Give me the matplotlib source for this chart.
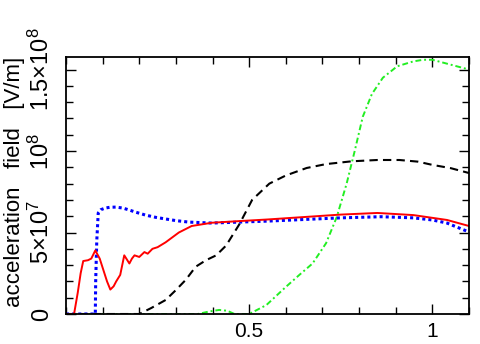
import numpy as np
import matplotlib
matplotlib.use('Agg')
import matplotlib.pyplot as plt
from matplotlib.ticker import MultipleLocator, FixedLocator, FixedFormatter

plt.rcParams['font.family'] = ['Liberation Sans', 'DejaVu Sans']
plt.rcParams['mathtext.fontset'] = 'custom'
plt.rcParams['mathtext.rm'] = 'Liberation Sans'

# field values in units of 1e7 V/m
red_x = [0, 0.022, 0.032, 0.04, 0.047, 0.06, 0.069, 0.08, 0.092, 0.102, 0.112, 0.121, 0.13,
         0.137, 0.148, 0.159, 0.166, 0.173, 0.18, 0.187, 0.2, 0.214, 0.223, 0.236, 0.25,
         0.272, 0.308, 0.343, 0.398, 0.473, 0.55, 0.65, 0.75, 0.85, 0.948, 1.04, 1.1]
red_y = [0, 0, 1.3, 2.5, 3.25, 3.3, 3.4, 3.9, 3.4, 2.7, 2.0, 1.5, 1.7,
         2.0, 2.4, 3.6, 3.35, 3.1, 3.4, 3.6, 3.5, 3.8, 3.7, 4.0, 4.1,
         4.4, 5.0, 5.4, 5.6, 5.7, 5.8, 5.95, 6.1, 6.2, 6.07, 5.77, 5.4]

blue_x = [0, 0.08, 0.081, 0.084, 0.088, 0.095, 0.107, 0.12, 0.137, 0.155, 0.17, 0.19,
          0.217, 0.245, 0.272, 0.3, 0.335, 0.398, 0.473, 0.55, 0.65, 0.75, 0.86,
          0.948, 1.0, 1.04, 1.1]
blue_y = [0, 0, 2.0, 4.5, 6.2, 6.4, 6.5, 6.55, 6.56, 6.5, 6.4, 6.25,
          6.07, 5.93, 5.83, 5.73, 5.64, 5.58, 5.64, 5.7, 5.8, 5.9, 5.97,
          5.9, 5.77, 5.58, 5.03]

black_x = [0, 0.2, 0.233, 0.272, 0.3, 0.327, 0.354, 0.382, 0.41, 0.437, 0.473, 0.508,
           0.555, 0.6, 0.657, 0.71, 0.78, 0.85, 0.91, 0.96, 1.0, 1.05, 1.1]
black_y = [0, 0, 0.37, 0.86, 1.47, 2.1, 2.9, 3.3, 3.6, 4.2, 5.5, 7.0,
           8.0, 8.5, 8.96, 9.2, 9.37, 9.45, 9.45, 9.35, 9.15, 8.95, 8.65]

green_x = [0, 0.36, 0.39, 0.418, 0.44, 0.46, 0.5, 0.547, 0.6, 0.637, 0.673, 0.71,
           0.739, 0.766, 0.788, 0.81, 0.835, 0.865, 0.904, 0.948, 0.975, 1.0, 1.05, 1.1]
green_y = [0, 0, 0.15, 0.25, 0.2, 0, 0, 0.55, 1.66, 2.4, 3.1, 4.35,
           5.95, 8.0, 10.0, 12.1, 13.5, 14.5, 15.2, 15.5, 15.6, 15.6, 15.3, 15.0]

ytick_vals = [0, 5e7, 1e8, 1.5e8]
ytick_text = ['0', r'$\mathregular{5{\times}10^{7}}$', r'$\mathregular{10^{8}}$',
              r'$\mathregular{1.5{\times}10^{8}}$']

fig = plt.figure(figsize=(4.8, 3.44), dpi=100)
ax = fig.add_axes([66 / 480, 30 / 344, 403 / 480, 257 / 344])

sc = 1e7
ax.plot(green_x, np.array(green_y) * sc, color='#22ee22', lw=1.4, dashes=(3, 1.5, 1, 1.5))
ax.plot(black_x, np.array(black_y) * sc, color='k', lw=1.5, dashes=(4, 2.5))
ax.plot(blue_x, np.array(blue_y) * sc, color='#0000ff', lw=2.2, dashes=(1, 1))
ax.plot(red_x, np.array(red_y) * sc, color='#ff0000', lw=1.4)

ax.set_xlim(0, 1.1)
ax.set_ylim(0, 1.577e8)

ax.xaxis.set_major_locator(FixedLocator([0.5, 1.0]))
ax.xaxis.set_major_formatter(FixedFormatter(['0.5', '1']))
ax.xaxis.set_minor_locator(MultipleLocator(0.1))
ax.yaxis.set_major_locator(FixedLocator(ytick_vals))
ax.yaxis.set_major_formatter(FixedFormatter(ytick_text))
ax.yaxis.set_minor_locator(MultipleLocator(1e7))

ax.tick_params(which='both', direction='in', top=True, right=True, width=1.0)
ax.tick_params(which='major', length=7)
ax.tick_params(which='minor', length=5)
ax.tick_params(axis='x', pad=6, labelsize=15)
ax.tick_params(axis='y', pad=9, labelrotation=90, labelsize=17)
for lab in ax.get_yticklabels():
    lab.set_va('center')
for s in ax.spines.values():
    s.set_linewidth(1.3)

ax.set_ylabel('acceleration   field   [V/m]', fontsize=16)
ax.yaxis.set_label_coords(-0.102, 0.515)

fig.savefig('out.png', dpi=100)
